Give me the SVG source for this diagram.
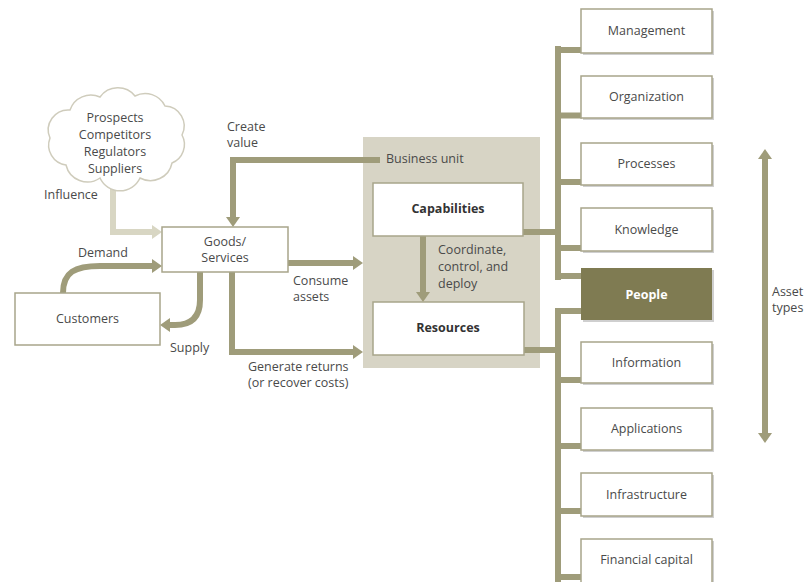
<svg xmlns="http://www.w3.org/2000/svg" width="804" height="582" viewBox="0 0 804 582">
<style>
text{font-family:"Open Sans","Noto Sans","Liberation Sans",sans-serif;font-size:12.5px;fill:#4a4a4a}
.c{text-anchor:middle}
.b{font-weight:bold;fill:#333}
.box{fill:#fff;stroke:#a8a58a;stroke-width:1.5}
.sh{fill:#cfcfcf}
.ln{fill:none;stroke:#9f9c7a;stroke-width:6}
.lt{fill:none;stroke:#d8d6c3;stroke-width:6}
</style>
<defs>
<marker id="ah" viewBox="0 -7 10 14" refX="0" refY="0" markerWidth="10" markerHeight="14" markerUnits="userSpaceOnUse" orient="auto-start-reverse"><path d="M0,-7 L10,0 L0,7 Z" fill="#9f9c7a"/></marker>
<marker id="ahl" viewBox="0 -7 10 14" refX="0" refY="0" markerWidth="10" markerHeight="14" markerUnits="userSpaceOnUse" orient="auto"><path d="M0,-7 L10,0 L0,7 Z" fill="#d8d6c3"/></marker>
</defs>

<g id="business-unit">
<rect x="363" y="137" width="177" height="231" fill="#d7d4c5"/>
<text x="386" y="163">Business unit</text>
</g>

<g id="connectors">
<path class="lt" d="M113,178 V232 H152" marker-end="url(#ahl)"/>
<path class="ln" d="M380,160 H233 V217" marker-end="url(#ah)"/>
<path class="ln" d="M63,293 C63,272 75,266 100,266 H152" marker-end="url(#ah)"/>
<path class="ln" d="M200,272 V300 Q200,325 175,325 H170" marker-end="url(#ah)"/>
<path class="ln" d="M288,263 H353" marker-end="url(#ah)"/>
<path class="ln" d="M232,272 V352 H353" marker-end="url(#ah)"/>
<path class="ln" d="M423,236 V292" marker-end="url(#ah)"/>
<path class="ln" d="M523,232 H558"/>
<path class="ln" d="M558,46 V280"/>
<path class="ln" d="M555,50 H582 M558,115.5 H582 M558,182 H582 M558,248 H582 M558,276 H582"/>
<path class="ln" d="M524,350 H558"/>
<path class="ln" d="M558,308 V582"/>
<path class="ln" d="M555,311 H582 M558,380 H582 M558,446 H582 M558,511 H582 M558,577 H582"/>
<path class="ln" d="M765,159 V433" marker-start="url(#ah)" marker-end="url(#ah)"/>
</g>

<g id="cloud">
<path d="M70,110 A22,22 0 0 1 100,97 A22,22 0 0 1 135,96 A22,22 0 0 1 165,106 A20,20 0 0 1 182,135 A20,20 0 0 1 172,163 A22,22 0 0 1 140,178 A22,22 0 0 1 100,178 A22,22 0 0 1 66,165 A20,20 0 0 1 50,138 A20,20 0 0 1 70,110 Z" fill="#fff" stroke="#cfccbc" stroke-width="1.5"/>
<text class="c" x="115" y="122">Prospects</text>
<text class="c" x="115" y="139">Competitors</text>
<text class="c" x="115" y="156">Regulators</text>
<text class="c" x="115" y="173">Suppliers</text>
</g>

<g id="goods">
<rect class="box" x="162" y="227" width="126" height="45"/>
<text class="c" x="225" y="246">Goods/</text>
<text class="c" x="225" y="262">Services</text>
</g>

<g id="customers">
<rect class="box" x="15" y="293" width="145" height="52"/>
<text class="c" x="87.5" y="323">Customers</text>
</g>

<g id="capabilities">
<rect class="box" x="373" y="183" width="150" height="53"/>
<text class="c b" x="448" y="213">Capabilities</text>
</g>

<g id="resources">
<rect class="box" x="373" y="302" width="151" height="53"/>
<text class="c b" x="448" y="332">Resources</text>
</g>

<g id="labels">
<text x="44" y="199">Influence</text>
<text x="227" y="131">Create</text>
<text x="227" y="147">value</text>
<text x="78" y="257">Demand</text>
<text x="170" y="352">Supply</text>
<text x="293" y="285">Consume</text>
<text x="293" y="301">assets</text>
<text x="248" y="371">Generate returns</text>
<text x="248" y="387">(or recover costs)</text>
<text x="438" y="254">Coordinate,</text>
<text x="438" y="271">control, and</text>
<text x="438" y="288">deploy</text>
<text x="772" y="296">Asset</text>
<text x="772" y="312">types</text>
</g>

<g id="management"><rect class="sh" x="583" y="11" width="131" height="44"/><rect class="box" x="581" y="9" width="131" height="44"/><text class="c" x="646.5" y="35">Management</text></g>
<g id="organization"><rect class="sh" x="583" y="78" width="131" height="42"/><rect class="box" x="581" y="76" width="131" height="42"/><text class="c" x="646.5" y="101">Organization</text></g>
<g id="processes"><rect class="sh" x="583" y="145" width="131" height="42"/><rect class="box" x="581" y="143" width="131" height="42"/><text class="c" x="646.5" y="168">Processes</text></g>
<g id="knowledge"><rect class="sh" x="583" y="210" width="131" height="43"/><rect class="box" x="581" y="208" width="131" height="43"/><text class="c" x="646.5" y="234">Knowledge</text></g>
<g id="people"><rect class="sh" x="583" y="270" width="131" height="52"/><rect x="581" y="268" width="131" height="52" fill="#7f7b52"/><text class="c b" x="646.5" y="299" style="fill:#fff">People</text></g>
<g id="information"><rect class="sh" x="583" y="344" width="131" height="41"/><rect class="box" x="581" y="342" width="131" height="41"/><text class="c" x="646.5" y="367">Information</text></g>
<g id="applications"><rect class="sh" x="583" y="410" width="131" height="42"/><rect class="box" x="581" y="408" width="131" height="42"/><text class="c" x="646.5" y="433">Applications</text></g>
<g id="infrastructure"><rect class="sh" x="583" y="475" width="131" height="43"/><rect class="box" x="581" y="473" width="131" height="43"/><text class="c" x="646.5" y="499">Infrastructure</text></g>
<g id="financial-capital"><rect class="sh" x="583" y="541" width="131" height="45"/><rect class="box" x="581" y="539" width="131" height="45"/><text class="c" x="646.5" y="564">Financial capital</text></g>
</svg>
